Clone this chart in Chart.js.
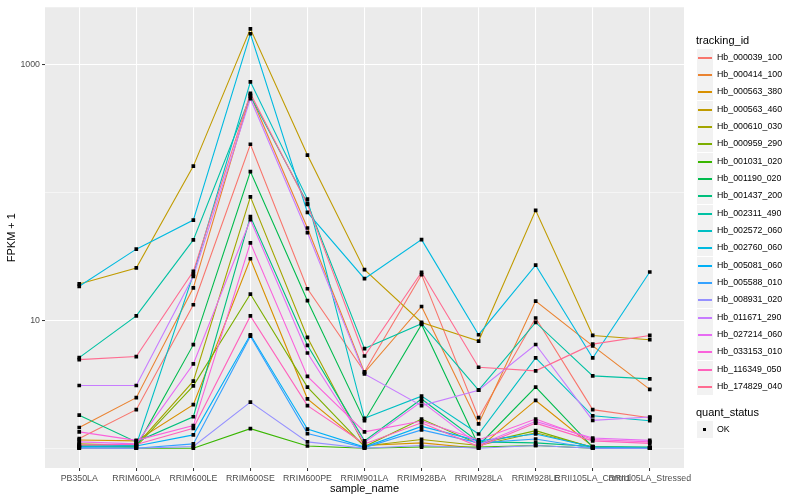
<!DOCTYPE html>
<html>
<head>
<meta charset="utf-8">
<title>FPKM by sample</title>
<script src="https://cdn.jsdelivr.net/npm/chart.js@4.4.1/dist/chart.umd.min.js"></script>
<style>
  html, body { margin: 0; padding: 0; background: #fff; }
  #wrap { position: relative; width: 800px; height: 500px; font-family: "Liberation Sans", Arial, sans-serif; }
  #chart { position: absolute; left: 0; top: 0; }
  .ttl { position: absolute; left: 696px; font-size: 11px; line-height: 13px; color: #000; white-space: nowrap; }
  .row { position: absolute; left: 697px; height: 17px; }
  .key { position: absolute; left: 0; top: 0; width: 16px; height: 17px; background: #F2F2F2; }
  .key i { position: absolute; left: 1px; right: 1px; top: 8px; height: 1.5px; }
  .key b { position: absolute; left: 6px; top: 7px; width: 3px; height: 3px; background: #000; }
  .lab { position: absolute; left: 20px; top: 0; font-size: 8.8px; line-height: 17px; color: #000; white-space: nowrap; }
</style>
</head>
<body>
<div id="wrap">
  <canvas id="chart" width="800" height="500"></canvas>
  <div id="legend"></div>
</div>
<script>
// samples on the x axis
const samples = ["PB350LA", "RRIM600LA", "RRIM600LE", "RRIM600SE", "RRIM600PE", "RRIM901LA",
  "RRIM928BA", "RRIM928LA", "RRIM928LE", "RRII105LA_Control", "RRII105LA_Stressed"];

// FPKM + 1, one array per gene, same order as samples
const hb_000039_100 = [1.19, 2.0, 13.2, 237, 17.6, 3.95, 22.7, 1.73, 10.4, 2.0, 1.73];
const hb_000414_100 = [1.45, 2.48, 17.9, 575, 52.5, 3.9, 12.8, 1.55, 14.1, 6.3, 2.88];
const hb_000563_380 = [1.16, 1.14, 2.19, 30.2, 2.43, 1.05, 1.10, 1.0, 2.36, 1.03, 1.0];
const hb_000563_460 = [19.2, 25.6, 160, 1891, 195, 24.8, 9.6, 6.87, 72.1, 7.6, 7.04];
const hb_000610_030 = [1.08, 1.05, 3.34, 92, 7.33, 1.04, 1.17, 1.05, 1.32, 1.02, 1.0];
const hb_000959_290 = [1.05, 1.03, 3.07, 16.0, 3.0, 1.03, 1.69, 1.08, 1.37, 1.01, 1.01];
const hb_001031_020 = [1.0, 1.0, 1.0, 1.42, 1.04, 1.0, 1.02, 1.02, 1.05, 1.0, 1.0];
const hb_001190_020 = [1.03, 1.02, 6.44, 145, 14.2, 1.64, 9.25, 1.05, 3.0, 1.02, 1.01];
const hb_001437_200 = [1.81, 1.12, 1.76, 64.5, 6.36, 1.14, 2.42, 1.12, 1.1, 1.03, 1.02];
const hb_002311_490 = [5.1, 10.8, 42.4, 564, 81.9, 6.0, 9.4, 2.84, 9.6, 3.67, 3.48];
const hb_002572_060 = [1.02, 1.06, 22.8, 728, 88.3, 1.71, 2.55, 1.29, 5.07, 1.79, 1.64];
const hb_002760_060 = [18.4, 35.9, 60.6, 1730, 69.5, 21.1, 42.6, 7.7, 26.9, 5.07, 23.8];
const hb_005081_060 = [1.04, 1.04, 1.27, 7.7, 1.41, 1.02, 1.48, 1.14, 1.29, 1.02, 1.0];
const hb_005588_010 = [1.01, 1.0, 1.08, 7.5, 1.30, 1.01, 1.39, 1.1, 1.18, 1.0, 1.0];
const hb_008931_020 = [1.0, 1.0, 1.03, 2.29, 1.12, 1.0, 1.05, 1.0, 1.05, 1.0, 1.0];
const hb_011671_290 = [3.09, 3.09, 22.0, 538, 48.4, 3.8, 2.15, 2.84, 6.46, 1.65, 1.75];
const hb_027214_060 = [1.12, 1.08, 4.55, 61.0, 5.54, 1.11, 2.31, 1.06, 1.62, 1.2, 1.15];
const hb_033153_010 = [1.34, 1.15, 1.50, 40.2, 3.64, 1.34, 1.63, 1.16, 1.69, 1.17, 1.12];
const hb_116349_050 = [1.06, 1.07, 1.43, 10.8, 2.15, 1.08, 1.58, 1.03, 1.57, 1.14, 1.09];
const hb_174829_040 = [4.92, 5.2, 24.1, 591, 80.3, 5.25, 23.7, 4.29, 4.02, 6.5, 7.6];

const trackingIds = ["Hb_000039_100", "Hb_000414_100", "Hb_000563_380", "Hb_000563_460", "Hb_000610_030",
  "Hb_000959_290", "Hb_001031_020", "Hb_001190_020", "Hb_001437_200", "Hb_002311_490", "Hb_002572_060",
  "Hb_002760_060", "Hb_005081_060", "Hb_005588_010", "Hb_008931_020", "Hb_011671_290", "Hb_027214_060",
  "Hb_033153_010", "Hb_116349_050", "Hb_174829_040"];
const series = [hb_000039_100, hb_000414_100, hb_000563_380, hb_000563_460, hb_000610_030,
  hb_000959_290, hb_001031_020, hb_001190_020, hb_001437_200, hb_002311_490, hb_002572_060,
  hb_002760_060, hb_005081_060, hb_005588_010, hb_008931_020, hb_011671_290, hb_027214_060,
  hb_033153_010, hb_116349_050, hb_174829_040];

// y axis ticks (labelled) and minor grid lines
const yTicks = [10, 1000];
const yMinor = [1, 100];

// ggplot hue palette, 20 levels
const colours = ["#F8766D", "#EA8331", "#D89000", "#C09B00", "#A3A500", "#7CAE00", "#39B600", "#00BB4E",
  "#00BF7D", "#00C1A3", "#00BFC4", "#00BAE0", "#00B0F6", "#35A2FF", "#9590FF", "#C77CFF", "#E76BF3",
  "#FA62DB", "#FF62BC", "#FF6C91"];

Chart.defaults.font.family = '"Liberation Sans", Arial, sans-serif';

const panelBg = {
  id: "panelBg",
  beforeDraw(chart) {
    const { ctx, chartArea: a } = chart;
    ctx.save();
    ctx.fillStyle = "#EBEBEB";
    ctx.fillRect(a.left, a.top, a.right - a.left, a.bottom - a.top);
    ctx.restore();
  }
};

const datasets = series.map((s, k) => ({
  label: trackingIds[k],
  data: s.map((v, i) => ({ x: i, y: v })),
  borderColor: colours[k],
  borderWidth: 1.1,
  pointRadius: 0,
  fill: false,
  tension: 0,
  order: 20 - k
}));

// points on top of all lines
const okPoints = [];
series.forEach(s => s.forEach((v, i) => okPoints.push({ x: i, y: v })));
datasets.push({
  label: "OK",
  data: okPoints,
  showLine: false,
  pointStyle: "rect",
  pointRadius: 2.6,
  pointBackgroundColor: "#000",
  pointBorderWidth: 0,
  order: 0
});

const isMajor = v => yTicks.includes(v);

new Chart(document.getElementById("chart"), {
  type: "line",
  data: { datasets },
  options: {
    responsive: false,
    animation: false,
    layout: { padding: { left: 0, right: 116, top: 5, bottom: 0 } },
    plugins: { legend: { display: false }, tooltip: { enabled: false } },
    scales: {
      x: {
        type: "linear",
        min: -0.6,
        max: 10.6,
        afterBuildTicks: sc => { sc.ticks = samples.map((_, i) => ({ value: i })); },
        afterFit: sc => { sc.height = 32; },
        ticks: {
          autoSkip: false, maxRotation: 0, minRotation: 0, padding: 2,
          color: "#4D4D4D", font: { size: 8.8 },
          callback: v => samples[v]
        },
        grid: { color: "#FFFFFF", lineWidth: 1.07, tickColor: "#333333", tickLength: 3, tickWidth: 1 },
        border: { display: false },
        title: { display: true, text: "sample_name", color: "#000", font: { size: 11 }, padding: { top: 0, bottom: 4.4 } }
      },
      y: {
        type: "logarithmic",
        min: 0.705,
        max: 2786,
        afterBuildTicks: sc => { sc.ticks = yMinor.concat(yTicks).sort((a, b) => a - b).map(v => ({ value: v })); },
        afterFit: sc => { sc.width = 45; },
        ticks: {
          padding: 2, color: "#4D4D4D", font: { size: 8.8 },
          callback: v => isMajor(v) ? String(v) : ""
        },
        grid: {
          color: "#FFFFFF",
          lineWidth: c => (c.tick && isMajor(c.tick.value)) ? 1.07 : 0.53,
          tickColor: c => (c.tick && isMajor(c.tick.value)) ? "#333333" : "rgba(0,0,0,0)",
          tickLength: 3,
          tickWidth: 1
        },
        border: { display: false },
        title: { display: true, text: "FPKM + 1", color: "#000", font: { size: 11 }, padding: { top: 5.4, bottom: 0 } }
      }
    }
  },
  plugins: [panelBg]
});

// ggplot style legend, two groups
const legend = document.getElementById("legend");
let html = '<div class="ttl" style="top:33.5px">tracking_id</div>';
trackingIds.forEach((id, k) => {
  const top = Math.round(48.67 + k * 17.33);
  html += '<div class="row" style="top:' + top + 'px"><div class="key"><i style="background:' +
    colours[k] + '"></i></div><div class="lab">' + id + '</div></div>';
});
html += '<div class="ttl" style="top:406px">quant_status</div>';
html += '<div class="row" style="top:421px"><div class="key"><b></b></div><div class="lab">OK</div></div>';
legend.innerHTML = html;
</script>
</body>
</html>
